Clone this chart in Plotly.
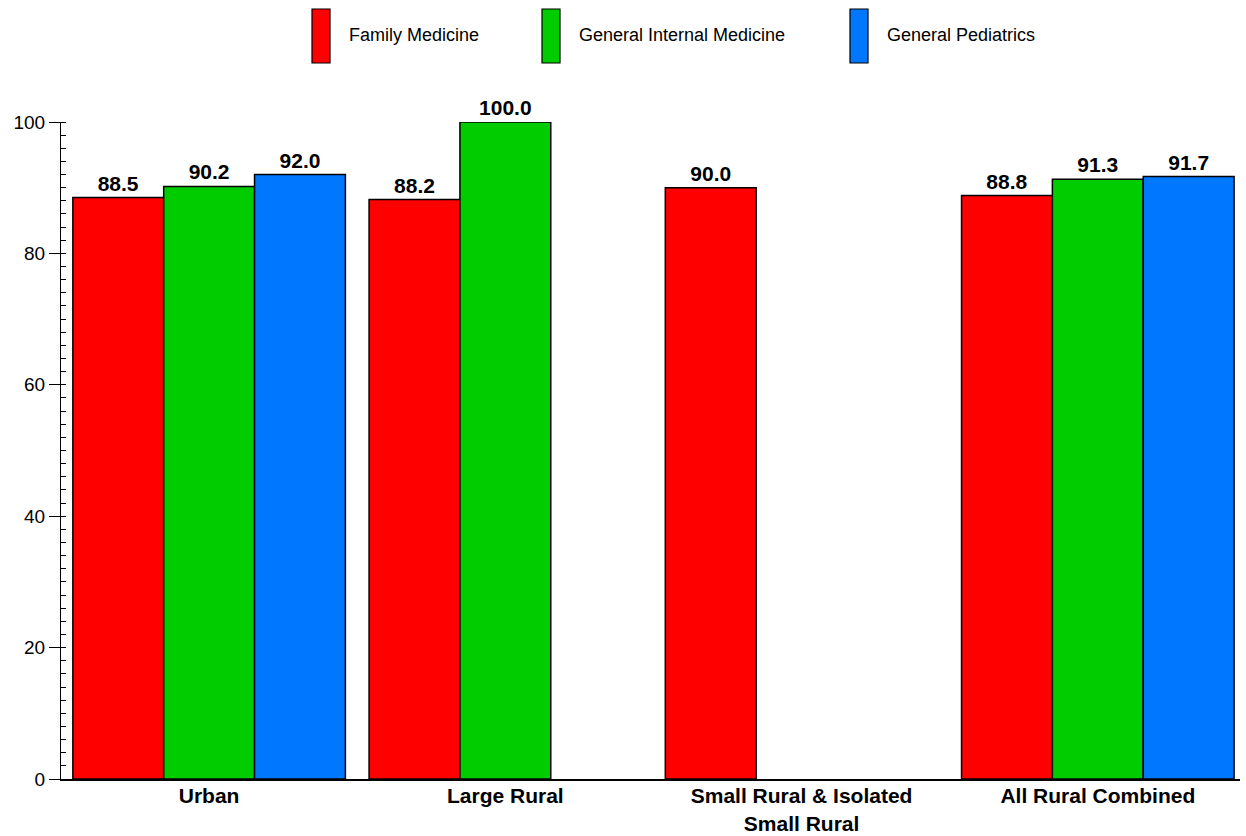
import plotly.graph_objects as go

categories = ["Urban", "Large Rural", "Small Rural & Isolated<br>Small Rural", "All Rural Combined"]
series_names = ["Family Medicine", "General Internal Medicine", "General Pediatrics"]
family_medicine = [88.5, 88.2, 90.0, 88.8]
general_internal = [90.2, 100.0, None, 91.3]
general_pediatrics = [92.0, None, None, 91.7]
colors = ["#FF0000", "#00CC00", "#0077FF"]
y_ticks = [0, 20, 40, 60, 80, 100]

FONT = "Liberation Sans, Arial, Helvetica, sans-serif"

L, R, T, B = 61, 6, 122, 57
PW, PH = 1246 - L - R, 836 - T - B

def px_x(px):
    return (px - L) / PW

def px_y(py):
    return (836 - B - py) / PH

fig = go.Figure()
for name, vals, col in zip(series_names, [family_medicine, general_internal, general_pediatrics], colors):
    fig.add_trace(go.Bar(
        x=list(range(len(categories))), y=vals, name=name,
        marker=dict(color=col, line=dict(color="black", width=1.5)),
        texttemplate="<b>%{y:.1f}</b>", textposition="outside",
        textfont=dict(size=21, color="black", family=FONT),
        cliponaxis=False, showlegend=False,
    ))

# custom legend (tall swatches)
swatch_px = [312, 542, 850]
for name, col, sx in zip(series_names, colors, swatch_px):
    fig.add_shape(type="rect", xref="paper", yref="paper",
                  x0=px_x(sx), x1=px_x(sx + 18), y0=px_y(63), y1=px_y(9),
                  fillcolor=col, line=dict(color="black", width=1.2))
    fig.add_annotation(xref="paper", yref="paper", x=px_x(sx + 35), y=px_y(35),
                       text=name, showarrow=False, xanchor="left", yanchor="middle",
                       font=dict(size=18, color="black", family=FONT))

fig.update_layout(
    width=1246, height=836,
    margin=dict(l=L, r=R, t=T, b=B, autoexpand=False),
    plot_bgcolor="white", paper_bgcolor="white",
    barmode="group", bargap=0.08, bargroupgap=0,
    font=dict(family=FONT, color="black"),
    xaxis=dict(
        range=[-0.5, 3.48], showline=True, linecolor="black", linewidth=2,
        ticks="", tickfont=dict(size=21, family=FONT),
        tickvals=list(range(len(categories))), ticktext=["<b>%s</b>" % c for c in categories],
        showgrid=False, zeroline=False, automargin=False, ticklabelstandoff=-3,
    ),
    yaxis=dict(
        range=[0, 100], showline=True, linecolor="black", linewidth=1,
        tickvals=y_ticks, ticks="outside", ticklen=11, tickcolor="black", tickwidth=1,
        tickfont=dict(size=19, family=FONT),
        minor=dict(ticks="inside", dtick=2, ticklen=5, tickcolor="black", tickwidth=1),
        showgrid=False, zeroline=False, automargin=False,
    ),
)
fig.write_html("out.html", config={"displayModeBar": False})

# remove the default 8px body margin of the page so the figure fills the window
with open("out.html", "r", encoding="utf-8") as f:
    html = f.read()
html = html.replace("<head>", "<head><style>html,body{margin:0;padding:0;overflow:hidden;}</style>", 1)
with open("out.html", "w", encoding="utf-8") as f:
    f.write(html)
